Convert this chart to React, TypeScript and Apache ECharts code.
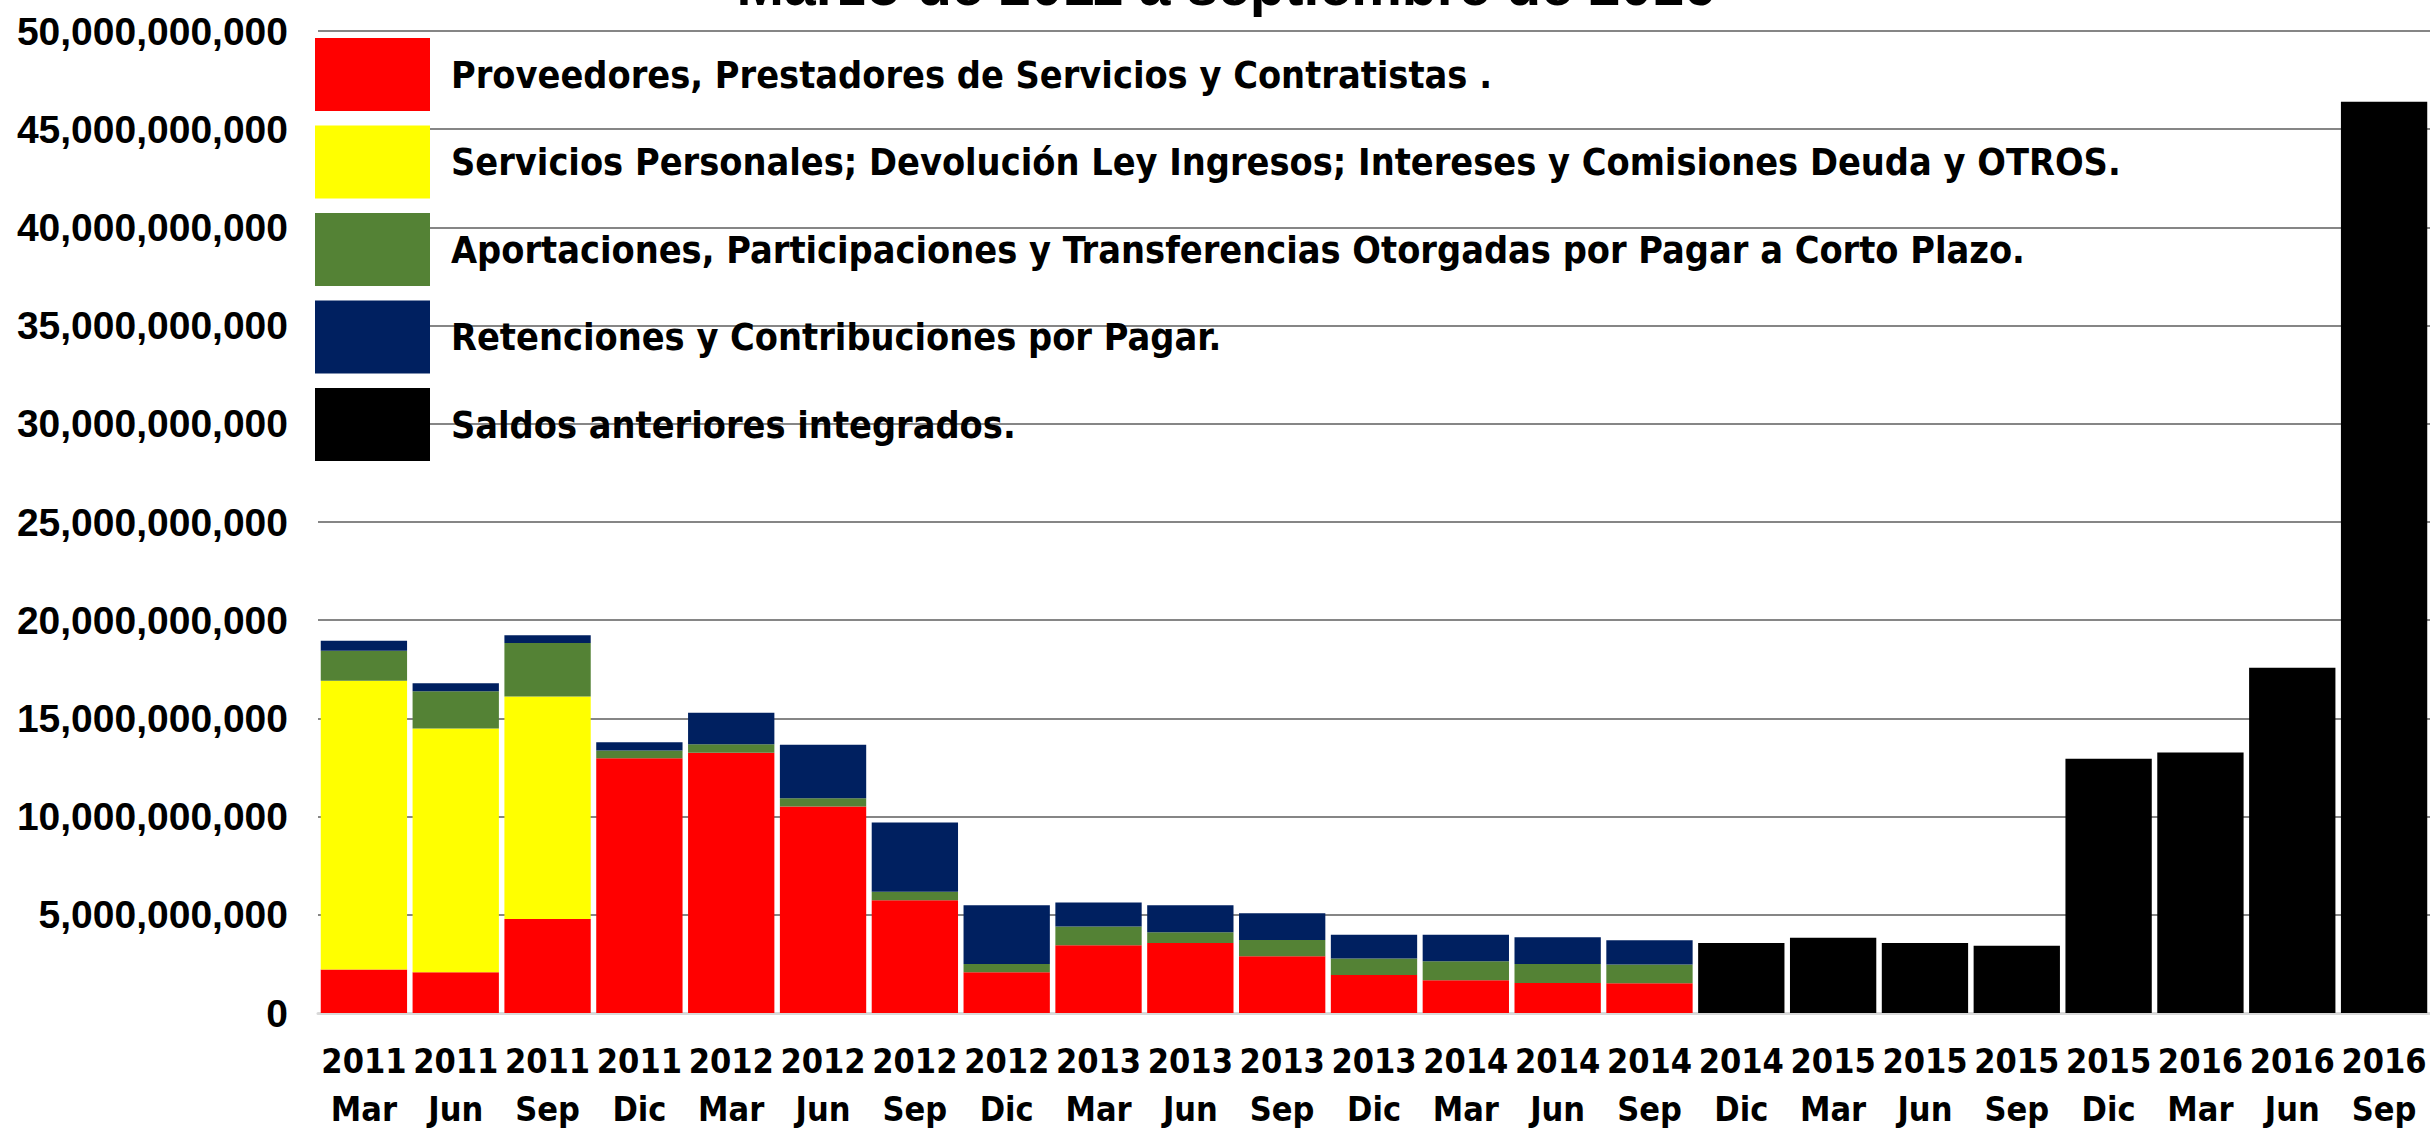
import React, { useEffect, useRef } from "react";
import * as echarts from "echarts";

const years = ["2011","2011","2011","2011","2012","2012","2012","2012","2013","2013","2013","2013","2014","2014","2014","2014","2015","2015","2015","2015","2016","2016","2016"];
const months = ["Mar","Jun","Sep","Dic","Mar","Jun","Sep","Dic","Mar","Jun","Sep","Dic","Mar","Jun","Sep","Dic","Mar","Jun","Sep","Dic","Mar","Jun","Sep"];
const categories = years.map((y, i) => `${y}\n${months[i]}`);

const seriesNames = [
  "Proveedores, Prestadores de Servicios y Contratistas .",
  "Servicios Personales; Devolución Ley Ingresos; Intereses y Comisiones Deuda y OTROS.",
  "Aportaciones, Participaciones y Transferencias Otorgadas por Pagar a Corto Plazo.",
  "Retenciones y Contribuciones por Pagar.",
  "Saldos anteriores integrados.",
];
const seriesColors = ["#FF0000", "#FFFF00", "#548235", "#002060", "#000000"];

const proveedores = [2.21e9, 2.07e9, 4.79e9, 12.97e9, 13.25e9, 10.52e9, 5.74e9, 2.07e9, 3.45e9, 3.57e9, 2.89e9, 1.94e9, 1.67e9, 1.53e9, 1.52e9, null, null, null, null, null, null, null, null];
const serviciosPersonales = [14.71e9, 12.41e9, 11.32e9, null, null, null, null, null, null, null, null, null, null, null, null, null, null, null, null, null, null, null, null];
const aportaciones = [1.52e9, 1.9e9, 2.73e9, 0.4e9, 0.43e9, 0.41e9, 0.43e9, 0.43e9, 0.95e9, 0.54e9, 0.83e9, 0.83e9, 0.96e9, 0.97e9, 0.95e9, null, null, null, null, null, null, null, null];
const retenciones = [0.52e9, 0.41e9, 0.4e9, 0.41e9, 1.61e9, 2.73e9, 3.53e9, 2.99e9, 1.22e9, 1.38e9, 1.36e9, 1.22e9, 1.36e9, 1.36e9, 1.24e9, null, null, null, null, null, null, null, null];
const saldosAnteriores = [null, null, null, null, null, null, null, null, null, null, null, null, null, null, null, 3.57e9, 3.83e9, 3.57e9, 3.42e9, 12.95e9, 13.26e9, 17.58e9, 46.4e9];

const seriesData = [proveedores, serviciosPersonales, aportaciones, retenciones, saldosAnteriores];

const titleText = "Marzo de 2011 a septiembre de 2016";

const yMax = 50e9;
const yInterval = 5e9;

const fmt = (v: number) => String(Math.round(v)).replace(/\B(?=(\d{3})+(?!\d))/g, ",");

const narrow = "'DejaVu Sans Condensed', 'DejaVu Sans', sans-serif";

export default function App() {
  const ref = useRef<HTMLDivElement>(null);
  useEffect(() => {
    if (!ref.current) return;
    const chart = echarts.init(ref.current, undefined, { renderer: "svg" });
    chart.setOption({
      animation: false,
      backgroundColor: "#ffffff",
      grid: { left: 318, right: 0, top: 31, bottom: 120, containLabel: false, outerBoundsMode: "none" },
      graphic: [
        {
          type: "text",
          x: 1226,
          y: -15,
          style: {
            text: titleText,
            fontFamily: "'Liberation Sans', Arial, sans-serif",
            fontWeight: "bold",
            fontSize: 57,
            fill: "#000",
            align: "center",
            verticalAlign: "middle",
          },
        },
      ],
      legend: {
        show: true,
        orient: "vertical",
        left: 315,
        top: 38,
        padding: 0,
        itemWidth: 115,
        itemHeight: 73,
        itemGap: 14.5,
        icon: "rect",
        data: seriesNames,
        selectedMode: false,
        textStyle: {
          fontFamily: narrow,
          fontWeight: "bold",
          fontSize: 37.5,
          color: "#000",
          padding: [0, 0, 0, 16],
        },
      },
      xAxis: {
        type: "category",
        data: categories,
        axisLine: { show: true, lineStyle: { color: "#d9d9d9", width: 3 } },
        axisTick: { show: false },
        axisLabel: {
          interval: 0,
          margin: 24,
          fontFamily: narrow,
          fontWeight: "bold",
          fontSize: 34,
          lineHeight: 48,
          color: "#000",
        },
      },
      yAxis: {
        type: "value",
        min: 0,
        max: yMax,
        interval: yInterval,
        axisLine: { show: false },
        axisTick: { show: false },
        splitLine: { show: true, lineStyle: { color: "#868686", width: 2 } },
        axisLabel: {
          margin: 30,
          formatter: (v: number) => fmt(v),
          fontFamily: "'Liberation Sans', Arial, sans-serif",
          fontWeight: "bold",
          fontSize: 39,
          color: "#000",
        },
      },
      series: seriesNames.map((name, i) => ({
        name,
        type: "bar",
        stack: "total",
        data: seriesData[i],
        barCategoryGap: "6%",
        itemStyle: { color: seriesColors[i] },
        emphasis: { disabled: true },
      })),
    });
    return () => chart.dispose();
  }, []);
  return (
    <div
      ref={ref}
      style={{ position: "absolute", left: 0, top: 0, width: 2430, height: 1133 }}
    />
  );
}
